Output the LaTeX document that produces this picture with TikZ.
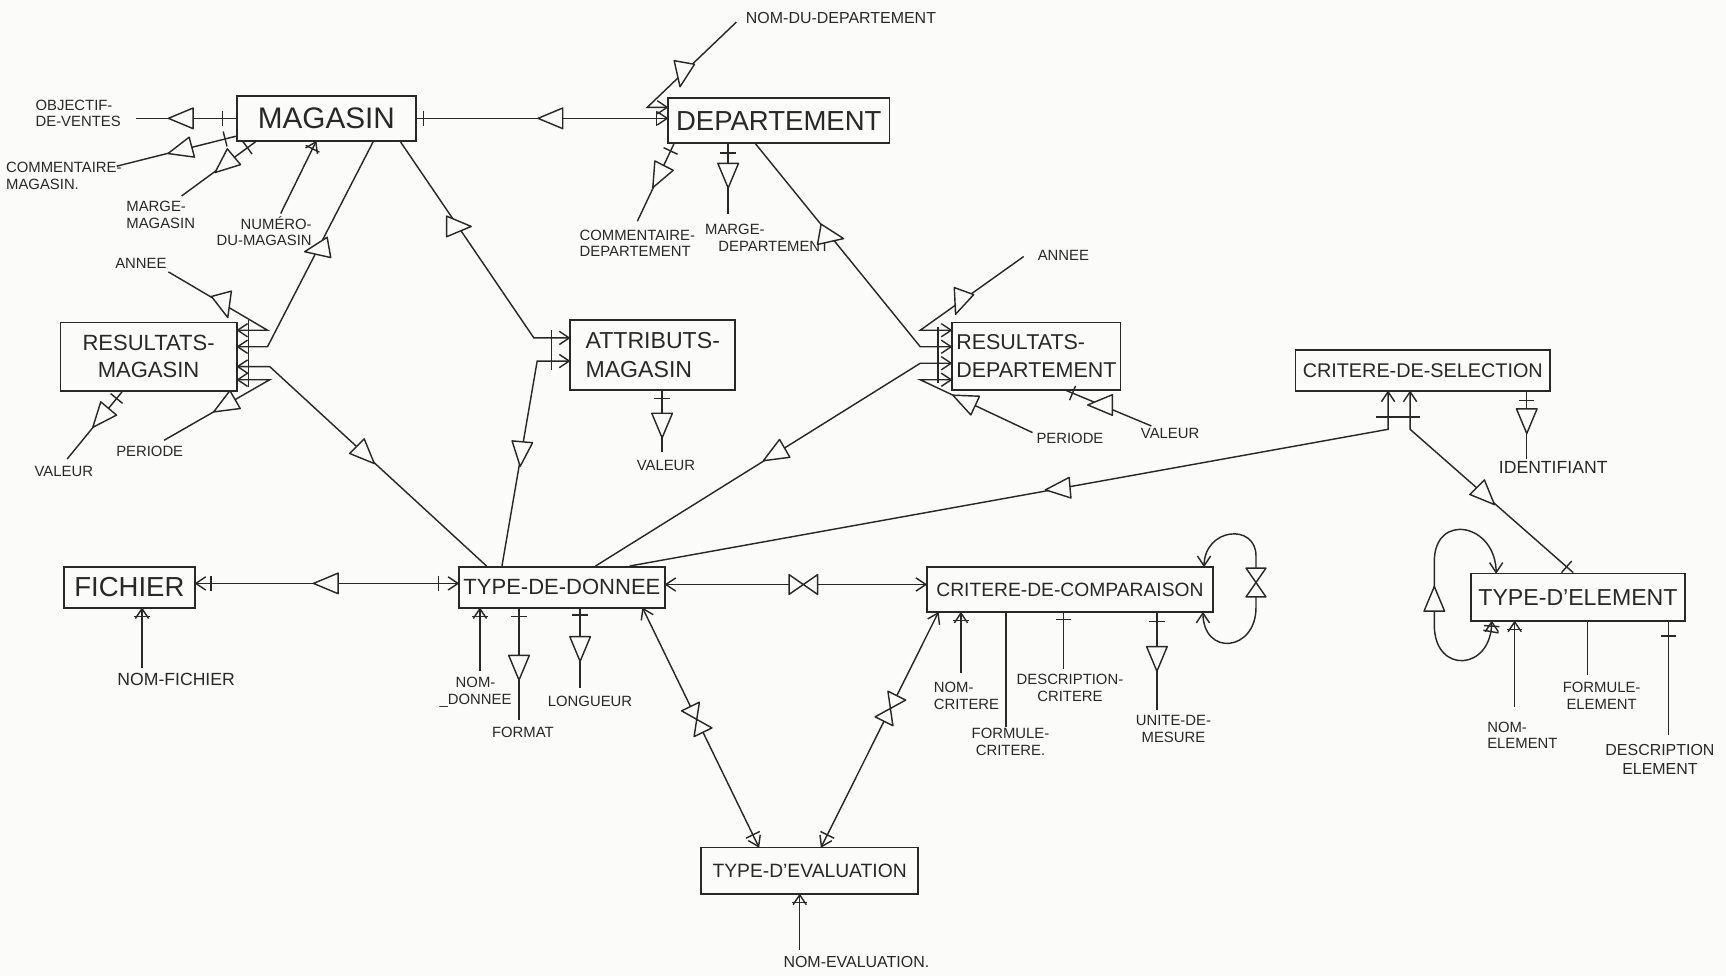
\documentclass[tikz,border=0pt]{standalone}
\usepackage{fontspec}
\setmainfont{Liberation Sans}
\usetikzlibrary{decorations.markings}
\definecolor{paper}{RGB}{251,251,249}
\definecolor{ink}{RGB}{40,40,40}
\tikzset{
  ent/.style={draw=ink, line width=1.6pt, inner sep=0pt, align=center, text=ink},
  lab/.style={inner sep=0pt, align=center, text=ink, font=\fontsize{13.5}{15}\selectfont},
  ln/.style={draw=ink, line width=1.3pt},
  sym/.style={draw=ink, line width=1.3pt, fill=paper, line join=round},
  bar/.style={draw=ink, line width=1.3pt, line join=round},
  ae/.style={postaction={decorate,decoration={markings,mark=at position -0.1pt with {\draw[bar] (-9,-6)--(0,0)--(-9,6);}}}},
  as/.style={postaction={decorate,decoration={markings,mark=at position 0.1pt with {\draw[bar] (9,-6)--(0,0)--(9,6);}}}},
  tk/.style={postaction={decorate,decoration={markings,mark=at position #1 with {\draw[bar] (0,-7)--(0,7);}}}},
  tri/.style 2 args={postaction={decorate,decoration={markings,mark=at position #1 with {\pgftransformresetnontranslations\draw[sym] (#2:12) -- ({#2+138}:14) -- ({#2-138}:14) -- cycle;}}}},
  bow/.style={postaction={decorate,decoration={markings,mark=at position #1 with {\draw[sym] (-13,-9)--(-13,9)--(13,-9)--(13,9)--cycle;}}}},
}
\begin{document}
\begin{tikzpicture}[x=1pt,y=-1pt]
\fill[paper] (0,0) rectangle (1568,887);
\useasboundingbox (0,0) rectangle (1568,887);

% entities
\node[ent, minimum width=163pt, minimum height=41pt, font=\fontsize{27}{30}\selectfont] (mag) at (296.5,107.5) {MAGASIN};
\node[ent, minimum width=201pt, minimum height=41pt, font=\fontsize{25}{28}\selectfont] (dep) at (707.5,109.5) {DEPARTEMENT};
\node[ent, minimum width=160pt, minimum height=62pt, font=\fontsize{20}{25}\selectfont] (resm) at (135,324) {RESULTATS-\\MAGASIN};
\node[ent, minimum width=150pt, minimum height=63pt, align=left, font=\fontsize{21}{26}\selectfont] (attr) at (593,322.5) {ATTRIBUTS-\\MAGASIN};
\node[ent, minimum width=153pt, minimum height=61pt, align=left, font=\fontsize{19.5}{26}\selectfont] (resd) at (941.5,323.5) {RESULTATS-\\DEPARTEMENT};
\node[ent, minimum width=231pt, minimum height=37pt, font=\fontsize{18}{20}\selectfont] (csel) at (1292.5,336.5) {CRITERE-DE-SELECTION};
\node[ent, minimum width=119pt, minimum height=37pt, font=\fontsize{25}{28}\selectfont] (fich) at (117.5,533.5) {FICHIER};
\node[ent, minimum width=187pt, minimum height=37pt, font=\fontsize{20}{22}\selectfont] (tdd) at (510.5,533.5) {TYPE-DE-DONNEE};
\node[ent, minimum width=260pt, minimum height=41pt, font=\fontsize{17.5}{20}\selectfont] (ccomp) at (972,535.5) {CRITERE-DE-COMPARAISON};
\node[ent, minimum width=195pt, minimum height=43pt, font=\fontsize{21}{24}\selectfont] (tel) at (1433.5,542.5) {TYPE-D'ELEMENT};
\node[ent, minimum width=197pt, minimum height=42pt, font=\fontsize{17.5}{20}\selectfont] (teval) at (735.5,791) {TYPE-D'EVALUATION};

% labels
\node[lab, align=left] (lObj) at (71,103) {OBJECTIF-\\DE-VENTES};
\node[lab, align=left] (lComM) at (58,160) {COMMENTAIRE-\\MAGASIN.};
\node[lab, align=left] (lMarM) at (146,195) {MARGE-\\MAGASIN};
\node[lab, align=right] (lNum) at (240,210) {NUMÉRO-\\DU-MAGASIN};
\node[lab] (lAnM) at (128,239) {ANNEE};
\node[lab] (lVaM) at (58,428) {VALEUR};
\node[lab] (lPeM) at (136,410) {PERIODE};
\node[lab, font=\fontsize{14.5}{16}\selectfont] (lNDD) at (764,16) {NOM-DU-DEPARTEMENT};
\node[lab, align=left] (lComD) at (579,221) {COMMENTAIRE-\\DEPARTEMENT};
\node[lab, align=left] (lMarD) at (697,216) {MARGE-\\\hspace{12pt}DEPARTEMENT};
\node[lab] (lAnD) at (966,232) {ANNEE};
\node[lab] (lPeD) at (972,398) {PERIODE};
\node[lab] (lVaD) at (1063,394) {VALEUR};
\node[lab] (lVaA) at (605,423) {VALEUR};
\node[lab, font=\fontsize{16}{18}\selectfont] (lId) at (1411,425) {IDENTIFIANT};
\node[lab, font=\fontsize{16}{18}\selectfont] (lNF) at (160,617) {NOM-FICHIER};
\node[lab] (lND) at (432,629) {NOM-\\\_DONNEE};
\node[lab] (lFo) at (475,665) {FORMAT};
\node[lab] (lLo) at (536,637) {LONGUEUR};
\node[lab, align=left] (lNC) at (878,632) {NOM-\\CRITERE};
\node[lab] (lFC) at (918,674) {FORMULE-\\CRITERE.};
\node[lab] (lDC) at (972,625) {DESCRIPTION-\\CRITERE};
\node[lab] (lUM) at (1066,662) {UNITE-DE-\\MESURE};
\node[lab, align=left] (lNE) at (1383,668) {NOM-\\ELEMENT};
\node[lab] (lFE) at (1455,632) {FORMULE-\\ELEMENT};
\node[lab, font=\fontsize{14.5}{17}\selectfont] (lDE) at (1508,690) {DESCRIPTION\\ELEMENT};
\node[lab, font=\fontsize{14.5}{16}\selectfont] (lNEv) at (778,874) {NOM-EVALUATION.};

% free ends and corners
\coordinate (pObj) at (124,107.5);
\coordinate (pComM) at (106,151);
\coordinate (pMarM) at (165,178);
\coordinate (pNum) at (255,194);
\coordinate (kMR) at (243,315);
\coordinate (kMA) at (485,307);
\coordinate (pNDD) at (669,20);
\coordinate (kNDD) at (588,97.5);
\coordinate (pComD) at (579,201);
\coordinate (pMarD) at (661.5,194);
\coordinate (kDR) at (836,315);
\coordinate (pAnD) at (930,233);
\coordinate (kAnD) at (836,300);
\coordinate (kTR) at (836,330);
\coordinate (pPeD) at (938,393);
\coordinate (kPeD) at (836,345);
\coordinate (pVaD) at (1046,387);
\coordinate (pAnM) at (153,247);
\coordinate (kAnM) at (243,300);
\coordinate (kTM) at (245,333);
\coordinate (pPeM) at (149,400);
\coordinate (kPeM) at (245,345);
\coordinate (pVaM) at (61,417);
\coordinate (kTA) at (488,328);
\coordinate (pVaA) at (601.5,411);
\coordinate (kTC) at (1261,390);
\coordinate (kCT) at (1281,390);
\coordinate (pId) at (1387,417);
\coordinate (pNF) at (129,607);
\coordinate (pND) at (436,610);
\coordinate (pFo) at (471.5,654);
\coordinate (pLo) at (527,625);
\coordinate (pNC) at (873,611);
\coordinate (pFC) at (914,660);
\coordinate (pDC) at (966,608);
\coordinate (pUM) at (1051,645);
\coordinate (kL1) at (1141,505);
\coordinate (kL2) at (1141,552);
\coordinate (kE1) at (1303,510);
\coordinate (kE2) at (1303,568);
\coordinate (pNE) at (1376,642);
\coordinate (pFE) at (1442,613);
\coordinate (pDE) at (1516,668);
\coordinate (pNEv) at (726.5,863);

% MAGASIN
\draw[ln, tri={41pt}{180}, tk={-12pt}] (pObj) -- (mag.west);
\draw[ln, tri={60pt}{165}, tk={-10pt}] (pComM) -- ([yshift=5pt]mag.south west);
\draw[ln, tri={49pt}{140}, tk={-9pt}] (pMarM) -- ([xshift=18pt]mag.south west);
\draw[ln, ae, tk={-7pt}] (pNum) -- ([xshift=-9.5pt]mag.south);
\draw[ln, ae, tri={110pt}{170}] ([xshift=42.5pt]mag.south) -- (kMR) -- (kMR -| resm.east);
\draw[ln, ae, tri={93pt}{0}] ([xshift=-15pt]mag.south east) -- (kMA) -- (kMA -| attr.west);
\draw[ln, ae, tk={6pt}, tk={-10pt}, tri={122pt}{180}] (mag.east) -- (mag.east -| dep.west);

% DEPARTEMENT
\draw[ln, ae, tri={68pt}{100}] (pNDD) -- (kNDD) -- (kNDD -| dep.west);
\draw[ln, tk={7pt}, tri={32pt}{117}] ([xshift=6pt]dep.south west) -- (pComD);
\draw[ln, tk={8pt}, tri={28pt}{90}] (dep.south -| pMarD) -- (pMarD);
\draw[ln, ae, tri={108pt}{10}] ([xshift=-21pt]dep.south) -- (kDR) -- (kDR -| resd.west);

% RESULTATS-DEPARTEMENT
\draw[ln, ae, tri={71pt}{110}] (pAnD) -- (kAnD) -- (kAnD -| resd.west);
\draw[ln, ae, tri={192pt}{150}] ([xshift=30.5pt]tdd.north) -- (kTR) -- (kTR -| resd.west);
\draw[ln, ae, tri={68pt}{205}] (pPeD) -- (kPeD) -- (kPeD -| resd.west);
\draw[ln] (852,297) -- (852,348);
\draw[ln, tk={6pt}, tri={34pt}{180}] ([xshift=-50pt]resd.south east) -- (pVaD);

% RESULTATS-MAGASIN
\draw[ln, ae, tri={59pt}{75}] (pAnM) -- (kAnM) -- (kAnM -| resm.east);
\draw[ln, ae, tri={150pt}{45}] ([xshift=-68.5pt]tdd.north) -- (kTM) -- (kTM -| resm.east);
\draw[ln, ae, tri={64pt}{150}] (pPeM) -- (kPeM) -- (kPeM -| resm.east);
\draw[ln] (226,291) -- (226,352);
\draw[ln, tk={8pt}, tri={30pt}{130}] ([xshift=-24pt]resm.south) -- (pVaM);

% ATTRIBUTS-MAGASIN
\draw[ln, ae, tri={104pt}{95}] ([xshift=-54.5pt]tdd.north) -- (kTA) -- (kTA -| attr.west);
\draw[ln] (501,300) -- (501,336);
\draw[ln, tk={7pt}, tri={31pt}{90}] (attr.south -| pVaA) -- (pVaA);

% CRITERE-DE-SELECTION
\draw[ln, ae, tri={396pt}{175}] ([xshift=61.5pt]tdd.north) -- (kTC) -- (kTC |- csel.south);
\draw[ln, as, tk={-8pt}, tri={125pt}{45}] (csel.south -| kCT) -- (kCT) -- ([xshift=94pt]tel.north west);
\draw[ln] (1250,379) -- (1290,379);
\draw[ln, tk={8pt}, tri={26pt}{90}] (csel.south -| pId) -- (pId);

% FICHIER
\draw[ln, as, ae, tk={14pt}, tk={-18pt}, tri={119pt}{180}] ([yshift=3.5pt]fich.east) -- ([yshift=3.5pt]fich.east -| tdd.west);
\draw[ln, ae, tk={-7pt}] (pNF) -- (pNF |- fich.south);

% TYPE-DE-DONNEE
\draw[ln, ae, tk={-7pt}] (pND) -- (pND |- tdd.south);
\draw[ln, tk={7pt}, tri={53pt}{90}] (tdd.south -| pFo) -- (pFo);
\draw[ln, tk={6pt}, tri={36pt}{90}] (tdd.south -| pLo) -- (pLo);
\draw[ln, as, ae, bow={125pt}] ([yshift=2.5pt]tdd.east) -- ([yshift=2.5pt]tdd.east -| ccomp.west);
\draw[ln, as, ae, tk={-12pt}, bow={112pt}] ([xshift=73.5pt]tdd.south) -- ([xshift=53pt]teval.north west);
\draw[ln, as, ae, tk={-12pt}, bow={97pt}] ([xshift=11pt]ccomp.south west) -- ([xshift=110pt]teval.north west);

% CRITERE-DE-COMPARAISON
\draw[ln, ae, tk={-7pt}] (pNC) -- (pNC |- ccomp.south);
\draw[ln] (ccomp.south -| pFC) -- (pFC);
\draw[ln, tk={6pt}] (ccomp.south -| pDC) -- (pDC);
\draw[ln, tk={8pt}, tri={41pt}{90}] (ccomp.south -| pUM) -- (pUM);
\draw[ln, as, ae, bow={0.48}] ([xshift=-9pt]ccomp.north east) .. controls +(0,-35) and +(0,-30) .. (kL1) -- (kL2) .. controls +(0,40) and +(0,40) .. ([xshift=-10pt]ccomp.south east);

% TYPE-D'ELEMENT
\draw[ln, as, ae, tk={-4pt}, tk={-9pt}, tri={0.53}{270}] ([xshift=24pt]tel.north west) .. controls +(0,-45) and +(0,-45) .. (kE1) -- (kE2) .. controls +(0,45) and +(0,45) .. ([xshift=20pt]tel.south west);
\draw[ln, ae, tk={-7pt}] (pNE) -- (pNE |- tel.south);
\draw[ln] (tel.south -| pFE) -- (pFE);
\draw[ln, tk={13pt}] (tel.south -| pDE) -- (pDE);

% TYPE-D'EVALUATION
\draw[ln, ae, tk={-7pt}] (pNEv) -- (pNEv |- teval.south);
\end{tikzpicture}
\end{document}
